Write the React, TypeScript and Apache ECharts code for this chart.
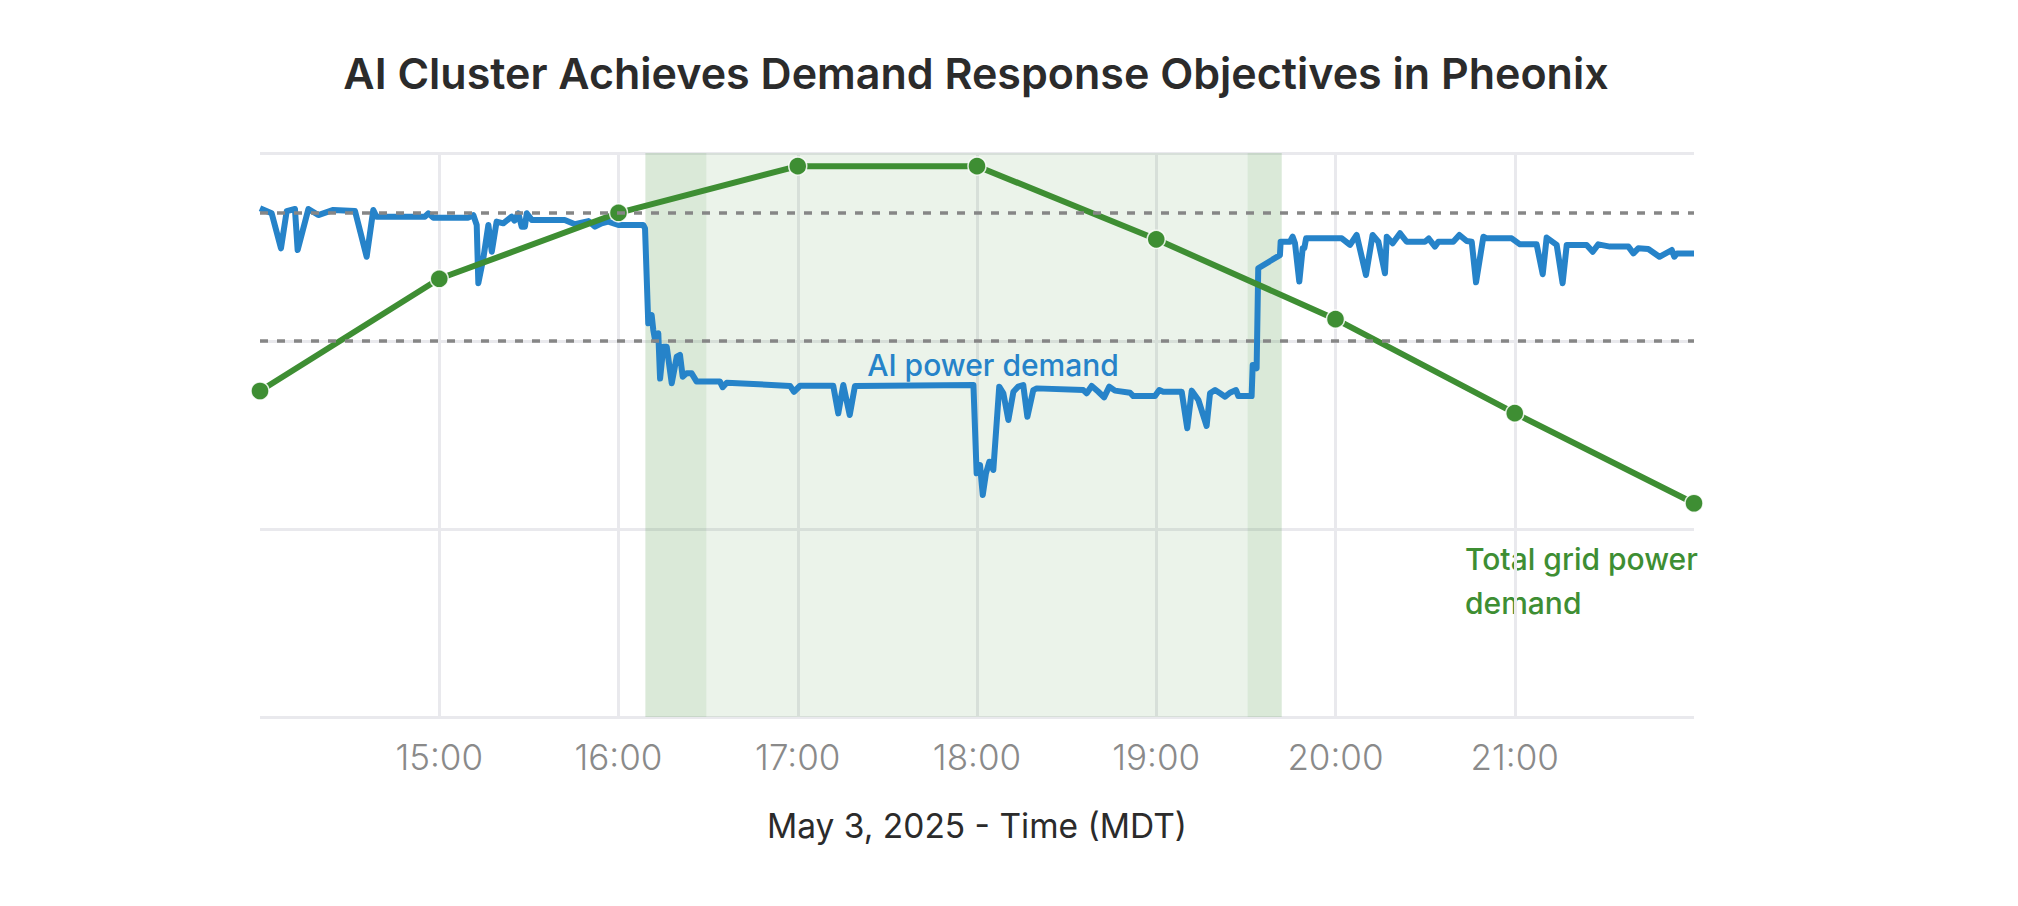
import React, { useEffect, useRef } from "react";
import * as echarts from "echarts";

// ---- data ----
const hourTicks = [14, 15, 16, 17, 18, 19, 20, 21, 22];

const gridHours = [14, 15, 16, 17, 18, 19, 20, 21, 22];
const gridDemand = [1.734, 2.331, 2.682, 2.93, 2.93, 2.541, 2.116, 1.616, 1.137];

// [hour of day, relative power]
const aiPowerDemand: [number, number][] = [
  [14.0, 2.706], [14.065, 2.679], [14.117, 2.493], [14.149, 2.691], [14.195, 2.702],
  [14.21, 2.484], [14.27, 2.702], [14.325, 2.67], [14.409, 2.697], [14.53, 2.691],
  [14.595, 2.448], [14.632, 2.697], [14.65, 2.661], [14.92, 2.661], [14.939, 2.679],
  [14.967, 2.656], [15.162, 2.656], [15.19, 2.67], [15.209, 2.617], [15.218, 2.307],
  [15.246, 2.44], [15.274, 2.617], [15.293, 2.475], [15.32, 2.635], [15.357, 2.626],
  [15.404, 2.661], [15.42, 2.64], [15.441, 2.679], [15.46, 2.608], [15.478, 2.608],
  [15.488, 2.679], [15.516, 2.644], [15.7, 2.644], [15.757, 2.621], [15.832, 2.638],
  [15.869, 2.608], [15.906, 2.626], [15.943, 2.635], [15.999, 2.617], [16.138, 2.617],
  [16.148, 2.599], [16.166, 2.094], [16.185, 2.138], [16.194, 2.059], [16.204, 2.005],
  [16.222, 2.041], [16.232, 1.8], [16.25, 1.97], [16.269, 1.97], [16.297, 1.775],
  [16.325, 1.917], [16.343, 1.926], [16.358, 1.81], [16.38, 1.828], [16.408, 1.828],
  [16.436, 1.784], [16.566, 1.784], [16.581, 1.754], [16.604, 1.778], [16.957, 1.761],
  [16.979, 1.73], [17.013, 1.762], [17.198, 1.762], [17.226, 1.615], [17.254, 1.766],
  [17.29, 1.606], [17.319, 1.761], [17.98, 1.766], [17.998, 1.296], [18.017, 1.34],
  [18.032, 1.181], [18.05, 1.296], [18.069, 1.358], [18.091, 1.314], [18.124, 1.757],
  [18.147, 1.722], [18.175, 1.58], [18.203, 1.73], [18.23, 1.757], [18.258, 1.766],
  [18.281, 1.597], [18.314, 1.739], [18.333, 1.748], [18.593, 1.739], [18.612, 1.722],
  [18.64, 1.761], [18.677, 1.73], [18.709, 1.7], [18.738, 1.757], [18.77, 1.736],
  [18.854, 1.725], [18.872, 1.707], [18.993, 1.707], [19.017, 1.739], [19.039, 1.73],
  [19.142, 1.73], [19.173, 1.536], [19.198, 1.736], [19.235, 1.686], [19.281, 1.548],
  [19.3, 1.722], [19.328, 1.739], [19.356, 1.722], [19.384, 1.704], [19.411, 1.725],
  [19.445, 1.739], [19.458, 1.707], [19.532, 1.707], [19.538, 1.872], [19.552, 1.872],
  [19.56, 1.855], [19.569, 2.387], [19.69, 2.457], [19.694, 2.528], [19.746, 2.528],
  [19.761, 2.555], [19.774, 2.52], [19.798, 2.316], [19.817, 2.493], [19.826, 2.493],
  [19.836, 2.546], [20.035, 2.546], [20.081, 2.511], [20.118, 2.564], [20.17, 2.351],
  [20.207, 2.564], [20.239, 2.528], [20.276, 2.36], [20.286, 2.555], [20.319, 2.52],
  [20.36, 2.573], [20.397, 2.528], [20.499, 2.528], [20.52, 2.545], [20.555, 2.502],
  [20.574, 2.528], [20.657, 2.528], [20.691, 2.564], [20.732, 2.532], [20.76, 2.528],
  [20.784, 2.312], [20.825, 2.555], [20.843, 2.546], [20.983, 2.546], [21.029, 2.514],
  [21.122, 2.514], [21.156, 2.355], [21.178, 2.55], [21.234, 2.511], [21.267, 2.307],
  [21.29, 2.511], [21.401, 2.511], [21.435, 2.475], [21.466, 2.514], [21.531, 2.502],
  [21.634, 2.502], [21.662, 2.466], [21.689, 2.493], [21.745, 2.489], [21.807, 2.448],
  [21.876, 2.484], [21.89, 2.448], [21.905, 2.466], [22.0, 2.466],
];

// demand response event windows (hours)
const rampWindows: [number, number][] = [[16.15, 16.49], [19.51, 19.7]];
const eventWindow: [number, number] = [16.49, 19.51];

// reference levels (dotted)
const referenceLevels = [2.68, 2.0];

const titleText = "AI Cluster Achieves Demand Response Objectives in Pheonix";
const xAxisName = "May 3, 2025 - Time (MDT)";
const aiLabel = "AI power demand";
const gridLabelLines = ["Total grid power", "demand"];

const BLUE = "#2683c9";
const GREEN = "#3e8e33";
const FONT = "Inter, 'Noto Sans', sans-serif";

export default function App() {
  const ref = useRef<HTMLDivElement>(null);

  useEffect(() => {
    if (!ref.current) return;
    const chart = echarts.init(ref.current, undefined, { renderer: "svg" });

    const option: any = {
      animation: false,
      backgroundColor: "#ffffff",
      grid: { left: 260, right: 324, top: 153, bottom: 189 },
      xAxis: {
        type: "value",
        min: hourTicks[0],
        max: hourTicks[hourTicks.length - 1],
        interval: 1,
        axisLine: { show: false },
        axisTick: { show: false },
        axisLabel: {
          showMinLabel: false,
          showMaxLabel: false,
          formatter: (v: number) => `${v}:00`,
          color: "#8a8a8a",
          fontFamily: FONT,
          fontWeight: 300,
          fontSize: 35,
          margin: 40,
          verticalAlign: "middle",
        },
        splitLine: {
          show: true,
          showMinLine: false,
          showMaxLine: false,
          lineStyle: { color: "#e9e9ed", width: 3 },
        },
        name: xAxisName,
        nameLocation: "middle",
        nameGap: 109,
        nameTextStyle: {
          color: "#2b2b2b",
          fontFamily: FONT,
          fontSize: 33.5,
          fontWeight: 400,
          verticalAlign: "middle",
        },
      },
      yAxis: {
        type: "value",
        min: 0,
        max: 3,
        interval: 1,
        axisLine: { show: false },
        axisTick: { show: false },
        axisLabel: { show: false },
        splitLine: { show: true, lineStyle: { color: "#e9e9ed", width: 3 } },
      },
      graphic: [
        {
          type: "text",
          x: 976,
          y: 73,
          style: {
            text: titleText,
            fill: "#2b2b2b",
            font: `600 43px ${FONT}`,
            align: "center",
            verticalAlign: "middle",
          },
        },
        {
          type: "text",
          x: 993,
          y: 364.5,
          z: 10,
          style: {
            text: aiLabel,
            fill: BLUE,
            font: `500 30px ${FONT}`,
            align: "center",
            verticalAlign: "middle",
          },
        },
        {
          type: "text",
          x: 1465,
          y: 559,
          style: {
            text: gridLabelLines[0],
            fill: GREEN,
            font: `500 30px ${FONT}`,
            align: "left",
            verticalAlign: "middle",
          },
        },
        {
          type: "text",
          x: 1465,
          y: 603,
          style: {
            text: gridLabelLines[1],
            fill: GREEN,
            font: `500 30px ${FONT}`,
            align: "left",
            verticalAlign: "middle",
          },
        },
      ],
      series: [
        {
          type: "line",
          name: "windows",
          data: [],
          z: 1,
          silent: true,
          markArea: {
            silent: true,
            data: [
              [
                { xAxis: rampWindows[0][0], itemStyle: { color: "rgba(61,140,47,0.19)" } },
                { xAxis: rampWindows[0][1] },
              ],
              [
                { xAxis: eventWindow[0], itemStyle: { color: "rgba(61,140,47,0.10)" } },
                { xAxis: eventWindow[1] },
              ],
              [
                { xAxis: rampWindows[1][0], itemStyle: { color: "rgba(61,140,47,0.19)" } },
                { xAxis: rampWindows[1][1] },
              ],
            ],
          },
        },
        {
          type: "line",
          name: "levels",
          data: [],
          z: 2,
          silent: true,
          markLine: {
            silent: true,
            symbol: "none",
            label: { show: false },
            lineStyle: { color: "#868686", width: 3.5, type: [8, 9] },
            data: referenceLevels.map((v) => ({ yAxis: v })),
          },
        },
        {
          type: "line",
          name: "AI power demand",
          data: aiPowerDemand,
          z: 3,
          symbol: "none",
          lineStyle: { color: BLUE, width: 6, join: "round" },
        },
        {
          type: "line",
          name: "Total grid power demand",
          data: gridHours.map((h, i) => [h, gridDemand[i]]),
          z: 4,
          symbol: "circle",
          symbolSize: 18,
          showAllSymbol: true,
          itemStyle: { color: GREEN, borderColor: "rgba(255,255,255,0.85)", borderWidth: 1.5 },
          lineStyle: { color: GREEN, width: 6 },
        },
      ],
    };

    chart.setOption(option);
    return () => chart.dispose();
  }, []);

  return (
    <div
      ref={ref}
      style={{ position: "fixed", left: 0, top: 0, width: 2018, height: 906, background: "#fff" }}
    />
  );
}
